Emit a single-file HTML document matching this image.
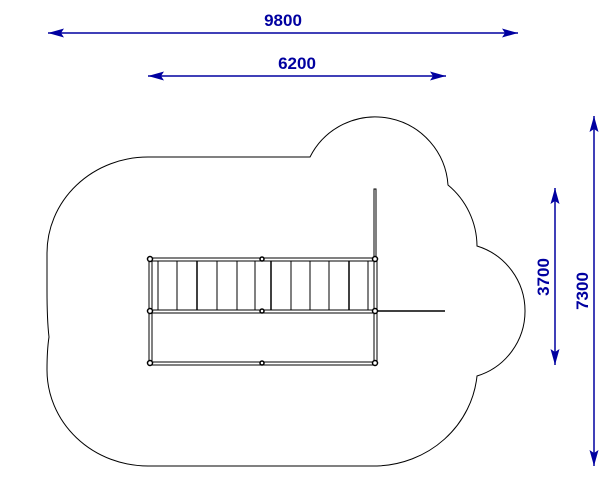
<!DOCTYPE html>
<html><head><style>body{margin:0;background:#fff}svg{display:block}</style></head><body>
<svg width="609" height="480" xmlns="http://www.w3.org/2000/svg">
<defs><marker id="a" markerWidth="16" markerHeight="10" refX="16" refY="5" orient="auto-start-reverse" markerUnits="userSpaceOnUse"><path d="M0,0.5 L16,5 L0,9.5 L3,5 Z" fill="#0000a0"/></marker></defs>
<g stroke="#0000a0" stroke-width="1.5" fill="none">
<line x1="48" y1="33" x2="518" y2="33" marker-start="url(#a)" marker-end="url(#a)"/>
<line x1="148" y1="76" x2="446" y2="76" marker-start="url(#a)" marker-end="url(#a)"/>
<line x1="555" y1="188" x2="555" y2="365" marker-start="url(#a)" marker-end="url(#a)"/>
<line x1="594" y1="116" x2="594" y2="466" marker-start="url(#a)" marker-end="url(#a)"/>
</g>
<g fill="#0000a0" font-family="Liberation Sans, sans-serif" font-weight="bold" font-size="17" text-anchor="middle">
<text x="283" y="26">9800</text>
<text x="297" y="69">6200</text>
<text transform="translate(549,277) rotate(-90)">3700</text>
<text transform="translate(588,291) rotate(-90)">7300</text>
</g>
<path d="M148,157 L310,157 A73,73 0 0 1 448,185 A80,80 0 0 1 477,246 A68,68 0 0 1 477,376 A104,100 0 0 1 377,466 L148,466 A101,96 0 0 1 47,370 Q47,350 49,337 Q47,320 47,290 L47,253 A101,96 0 0 1 148,157 Z" fill="none" stroke="#000" stroke-width="1"/>
<g stroke="#000" fill="none" stroke-width="1">
<rect x="149" y="258" width="227" height="3"/>
<rect x="149" y="310" width="227" height="3"/>
<rect x="149" y="362" width="227" height="3"/>
<rect x="149" y="259" width="3" height="104"/>
<rect x="374" y="259" width="3" height="104"/>
<rect x="374" y="189" width="2" height="70"/>
<line x1="377" y1="311" x2="445" y2="311" stroke-width="1.5"/>
<g stroke-width="1">
<line x1="158" y1="261" x2="158" y2="310"/><line x1="177" y1="261" x2="177" y2="310"/><line x1="197" y1="261" x2="197" y2="310" stroke-width="1.5"/><line x1="217" y1="261" x2="217" y2="310"/><line x1="237" y1="261" x2="237" y2="310"/><line x1="255" y1="261" x2="255" y2="310"/>
<line x1="271" y1="261" x2="271" y2="310" stroke-width="1.5"/><line x1="291" y1="261" x2="291" y2="310"/><line x1="310" y1="261" x2="310" y2="310"/><line x1="329" y1="261" x2="329" y2="310"/><line x1="349" y1="261" x2="349" y2="310" stroke-width="1.5"/><line x1="368" y1="261" x2="368" y2="310"/>
</g>
<g fill="#fff" stroke-width="1.5">
<circle cx="150" cy="259" r="2.5"/><circle cx="150" cy="311" r="2.5"/><circle cx="150" cy="363" r="2.5"/>
<circle cx="375" cy="259" r="2.5"/><circle cx="375" cy="311" r="2.5"/><circle cx="375" cy="363" r="2.5"/>
<circle cx="262" cy="259" r="2"/><circle cx="262" cy="311" r="2"/><circle cx="262" cy="363" r="2"/>
</g>
</g>
</svg>
</body></html>
